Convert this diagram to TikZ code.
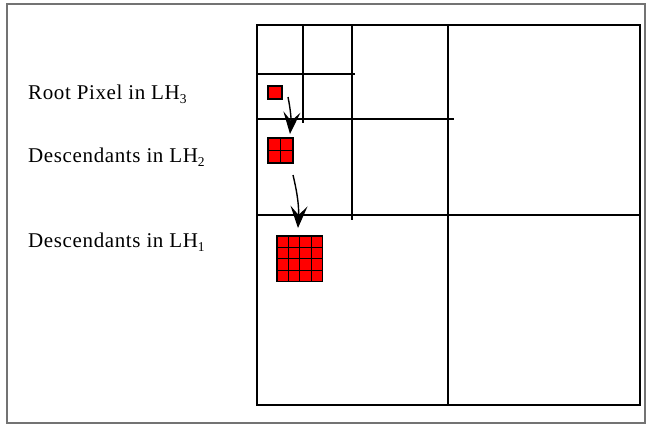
\documentclass[tikz,border=0pt]{standalone}
\usepackage{fontspec}
\setmainfont{Liberation Serif}
\usetikzlibrary{arrows.meta,calc}
\newcommand{\sbs}[1]{\raisebox{-0.22em}{\fontsize{13.5bp}{13.5bp}\selectfont #1}}
\begin{document}
\begin{tikzpicture}[x=1bp,y=-1bp,
  grid/.style={draw=black,line width=1.2bp},
  frame/.style={draw=black!55,line width=1.3bp},
  pix/.style={draw=black,fill=red,line width=1.2bp},
  pixline/.style={draw=black,line width=1.1bp},
  lbl/.style={anchor=base west,inner sep=0pt,font=\fontsize{21bp}{24bp}\selectfont\addfontfeatures{LetterSpace=3}},
  arr/.style={line width=1.4bp,-{Stealth[length=22bp,width=17bp,inset=9bp]}}]
\useasboundingbox (0,0) rectangle (651,426);
\draw[frame] (7,4) rectangle (645,423);
% grid
\draw[grid] (257,25) rectangle (640,405);
\draw[grid] (303,25) -- (303,123);
\draw[grid] (352,25) -- (352,220);
\draw[grid] (448,25) -- (448,405);
\draw[grid] (257,74) -- (355,74);
\draw[grid] (257,119) -- (454,119);
\draw[grid] (257,215) -- (640,215);
% pixels
\node[pix,minimum width=14bp,minimum height=13bp,inner sep=0pt] (root) at (275,92.5) {};
\node[pix,minimum size=25bp,inner sep=0pt] (d2) at (280.5,150.5) {};
\draw[pixline] (d2.north) -- (d2.south) (d2.west) -- (d2.east);
\node[pix,minimum size=45.6bp,inner sep=0pt] (d1) at (299.8,258.8) {};
\foreach \f in {0.25,0.5,0.75}{
  \draw[pixline] ($(d1.north west)!\f!(d1.north east)$) -- ($(d1.south west)!\f!(d1.south east)$);
  \draw[pixline] ($(d1.north west)!\f!(d1.south west)$) -- ($(d1.north east)!\f!(d1.south east)$);
}
% arrows
\coordinate (a1s) at (288,97);
\coordinate (a1e) at (290,134);
\coordinate (a2s) at (293,175);
\coordinate (a2e) at (298,228);
\draw[arr] (a1s) to[bend left=8] (a1e);
\draw[arr] (a2s) to[bend left=8] (a2e);
% labels
\node[lbl] (l3) at (28,99) {Root Pixel in LH\sbs{3}};
\node[lbl] (l2) at (28,162) {Descendants in LH\sbs{2}};
\node[lbl] (l1) at (28,247) {Descendants in LH\sbs{1}};
\end{tikzpicture}
\end{document}
